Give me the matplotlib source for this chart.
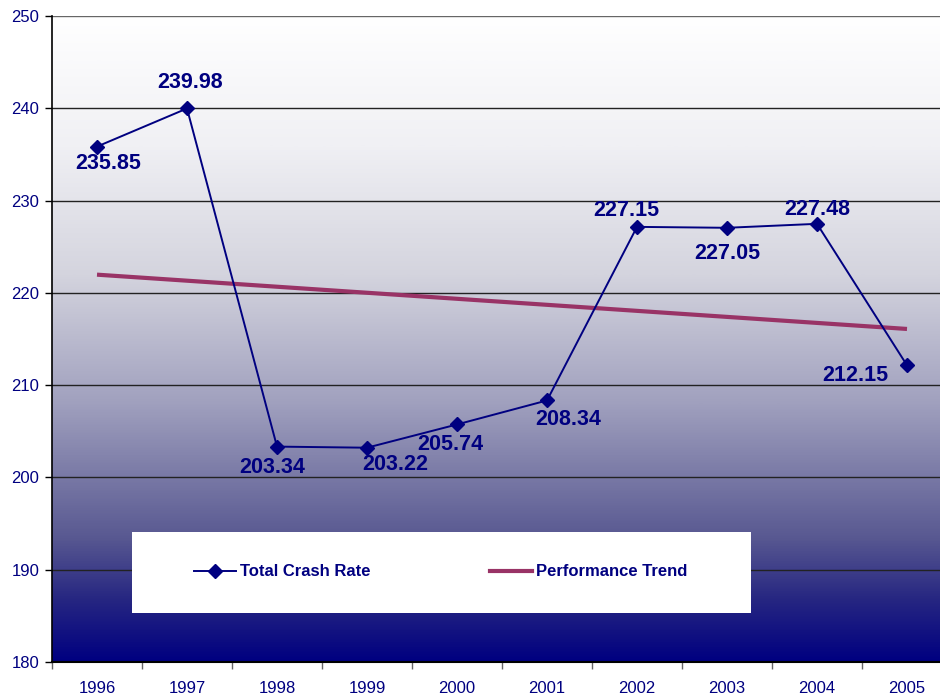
import numpy as np
import matplotlib
matplotlib.use("Agg")
import matplotlib.pyplot as plt
from matplotlib.colors import LinearSegmentedColormap
from matplotlib.patches import Rectangle
from matplotlib.lines import Line2D

years = ["1996", "1997", "1998", "1999", "2000", "2001", "2002", "2003", "2004", "2005"]
crash_rate = [235.85, 239.98, 203.34, 203.22, 205.74, 208.34, 227.15, 227.05, 227.48, 212.15]
# label offsets in pixels (dx, dy)
label_offsets = [(11, -17), (3, 26), (-5, -21), (28, -17), (-7, -20),
                 (21, -19), (-11, 16), (0, -26), (0, 14), (-52, -10)]

plt.rcParams['font.family'] = ['Liberation Sans', 'DejaVu Sans']
NAVY = '#000080'
TREND = '#993366'

fig = plt.figure(figsize=(9.4, 6.96), dpi=100)
fig.patch.set_facecolor('white')
ax = fig.add_axes([52/940, 34/696, 900/940, 646/696])

x = np.arange(len(years))

# background gradient
stops = [(0.0, (0/255, 0/255, 128/255)),
         (0.1, (40/255, 40/255, 130/255)),
         (0.19, (88/255, 88/255, 145/255)),
         (0.4, (160/255, 160/255, 190/255)),
         (0.6, (212/255, 212/255, 222/255)),
         (0.8, (240/255, 240/255, 244/255)),
         (1.0, (1, 1, 1))]
cmap = LinearSegmentedColormap.from_list('bg', stops)
grad = np.linspace(1, 0, 512).reshape(-1, 1)
ax.imshow(grad, extent=[0, 1, 0, 1], transform=ax.transAxes, aspect='auto',
          cmap=cmap, vmin=0, vmax=1, zorder=0, interpolation='bilinear')

ax.set_xlim(-0.5, len(years) - 0.5)
ax.set_ylim(180, 250)

# gridlines
for yv in range(190, 251, 10):
    ax.axhline(yv, color='#222222' if yv < 250 else '#666666', lw=1.0, zorder=1)

# legend box
ax.add_patch(Rectangle((80/900, 49/646), 619/900, 81/646, transform=ax.transAxes,
                       facecolor='white', edgecolor='none', zorder=2))

# trend
coef = np.polyfit(x, crash_rate, 1)
trend = np.polyval(coef, x)
ax.plot(x, trend, color=TREND, lw=3, zorder=3, solid_capstyle='butt')

ax.plot(x, crash_rate, color=NAVY, lw=1.4, marker='D', markersize=7, zorder=4)

for xi, yi, (dx, dy) in zip(x, crash_rate, label_offsets):
    ax.annotate(f"{yi:.2f}", (xi, yi), xytext=(dx, dy), textcoords='offset pixels',
                ha='center', va='center', fontsize=15.5, fontweight='bold',
                color=NAVY, zorder=5)

# axes styling
for s in ['top', 'right']:
    ax.spines[s].set_visible(False)
ax.spines['left'].set_color('black')
ax.spines['left'].set_linewidth(1.2)
ax.spines['bottom'].set_color('black')
ax.spines['bottom'].set_linewidth(1.5)
ax.spines['left'].set_zorder(6)
ax.spines['bottom'].set_zorder(6)

ax.set_yticks(range(180, 251, 10))
ax.tick_params(axis='y', direction='out', length=5, width=1, color='black',
               labelsize=12, labelcolor=NAVY, pad=4)
ax.set_xticks(x)
ax.set_xticklabels(years)
ax.tick_params(axis='x', which='major', length=0, labelsize=12, labelcolor=NAVY, pad=14)
ax.set_xticks(np.arange(-0.5, len(years), 1.0), minor=True)
ax.tick_params(axis='x', which='minor', direction='out', length=5, width=1, color='#666666')

handles = [Line2D([], [], color=NAVY, lw=1.4, marker='D', markersize=7),
           Line2D([], [], color=TREND, lw=3)]
leg = ax.legend(handles, ['Total Crash Rate', 'Performance Trend'], ncol=2,
                loc='center left', bbox_to_anchor=(142/900, 90/646),
                frameon=False, borderpad=0, borderaxespad=0,
                handlelength=2.5, handletextpad=0.25, columnspacing=7.2,
                prop={'size': 12, 'weight': 'bold'})
for t in leg.get_texts():
    t.set_color(NAVY)
leg.set_zorder(7)

fig.savefig('out.png', dpi=100)
